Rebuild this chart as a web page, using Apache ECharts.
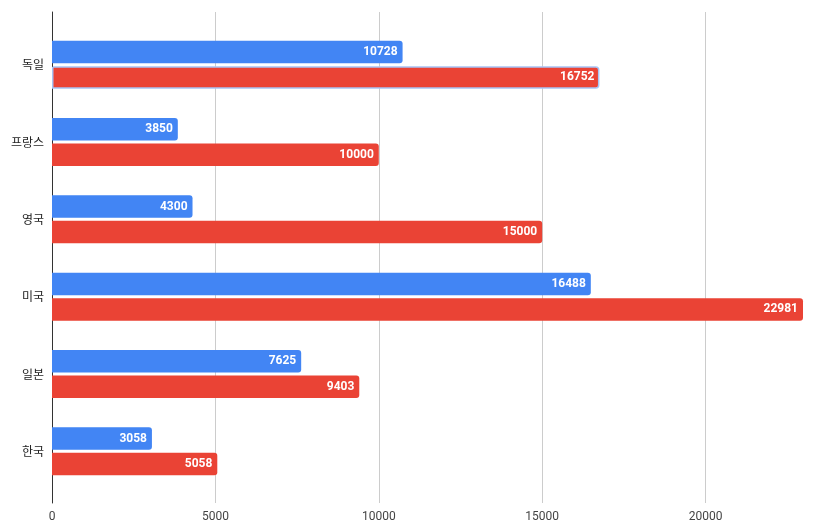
<!DOCTYPE html>
<html>
<head>
<meta charset="utf-8">
<script src="https://cdn.jsdelivr.net/npm/echarts@6/dist/echarts.min.js"></script>
<style>
  html, body { margin: 0; padding: 0; background: #fff; }
  #chart { width: 826px; height: 529px; }
</style>
</head>
<body>
<div id="chart"></div>
<script>
// 나라별 값
const countries = ["독일", "프랑스", "영국", "미국", "일본", "한국"];
const blueValues = [10728, 3850, 4300, 16488, 7625, 3058];
const redValues = [16752, 10000, 15000, 22981, 9403, 5058];
const axisMax = 22981;
const axisStep = 5000;
const selectedIndex = 0; // 선택된 막대 (독일)

const chart = echarts.init(document.getElementById("chart"));

const barLabel = {
  show: true,
  position: "insideRight",
  color: "#fff",
  fontWeight: "bold",
  fontSize: 12,
  fontFamily: "Roboto"
};

chart.setOption({
  animation: false,
  textStyle: { fontFamily: "Roboto, 'Noto Sans CJK KR'" },
  grid: [
    // 눈금선/축선용
    { left: 52, right: 23, top: 12, bottom: 26 },
    // 막대용
    { left: 52, right: 23, top: 26, bottom: 39 }
  ],
  xAxis: [
    {
      gridIndex: 0,
      type: "value",
      min: 0,
      max: axisMax,
      interval: axisStep,
      axisLine: { show: false },
      axisTick: { show: false },
      axisLabel: {
        color: "#444",
        fontSize: 12,
        margin: 8,
        showMaxLabel: false,
        formatter: (v) => String(v)
      },
      splitLine: { show: true, showMaxLine: false, lineStyle: { color: "#ccc" } }
    },
    {
      gridIndex: 1,
      type: "value",
      min: 0,
      max: axisMax,
      show: false
    }
  ],
  yAxis: [
    {
      gridIndex: 0,
      type: "value",
      axisLine: { show: true, lineStyle: { color: "#333" } },
      axisTick: { show: false },
      axisLabel: { show: false },
      splitLine: { show: false }
    },
    {
      gridIndex: 1,
      type: "category",
      inverse: true,
      data: countries,
      axisLine: { show: false },
      axisTick: { show: false },
      axisLabel: { color: "#222", fontSize: 12, margin: 8, fontFamily: "'Noto Sans CJK KR'" }
    }
  ],
  series: [
    {
      type: "bar",
      xAxisIndex: 1,
      yAxisIndex: 1,
      data: blueValues,
      barGap: "13%",
      barCategoryGap: "38%",
      itemStyle: { color: "#4285f4", borderRadius: [0, 3, 3, 0] },
      label: barLabel
    },
    {
      type: "bar",
      xAxisIndex: 1,
      yAxisIndex: 1,
      data: redValues.map((v, i) =>
        i === selectedIndex
          ? { value: v, itemStyle: { borderColor: "#a8c4f5", borderWidth: 1.5 } }
          : v
      ),
      itemStyle: { color: "#ea4335", borderRadius: [0, 3, 3, 0] },
      label: barLabel
    }
  ]
});
</script>
</body>
</html>
